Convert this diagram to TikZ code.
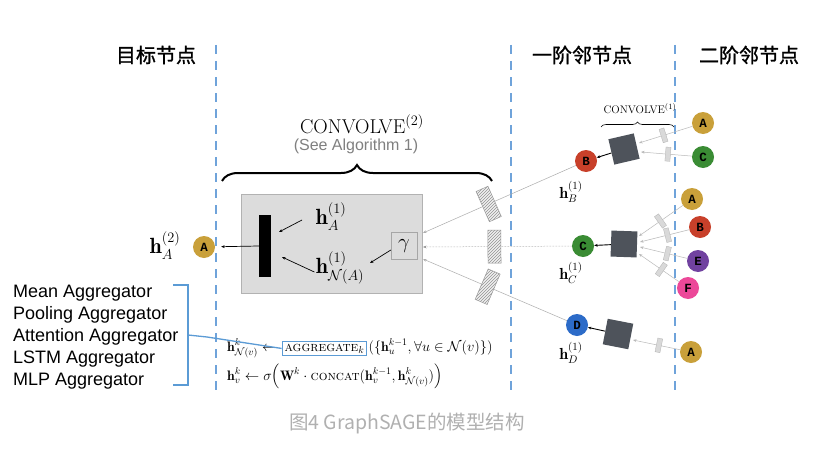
\documentclass[tikz,border=0pt]{standalone}
\usepackage{amsmath,amssymb}
\usepackage{fontspec}
\newfontfamily\cjk{Noto Sans CJK SC}
\newfontfamily\cjkhdr{Noto Sans CJK SC}[FakeBold=1.2]
\newfontfamily\lsans{Liberation Sans}
\newfontfamily\nodemono{Liberation Mono}
\usetikzlibrary{arrows.meta,patterns,decorations.pathreplacing,calc}
\definecolor{gold}{HTML}{C9A03A}
\definecolor{nred}{HTML}{C8402A}
\definecolor{ngreen}{HTML}{3A8C34}
\definecolor{nblue}{HTML}{2C6BC8}
\definecolor{npurple}{HTML}{7142A0}
\definecolor{npink}{HTML}{EC4899}
\definecolor{sepblue}{HTML}{6FA3DA}
\definecolor{brblue}{HTML}{5B9BD5}
\definecolor{sqgray}{HTML}{4E535B}
\definecolor{boxgray}{HTML}{DCDCDC}
\definecolor{capgray}{HTML}{B0B0B0}
\begin{document}
\begin{tikzpicture}[x=1pt,y=-1pt,
  vnode/.style={circle, minimum size=22pt, inner sep=0pt, font=\nodemono\bfseries\fontsize{12.5}{12.5}\selectfont, text=black},
  sepline/.style={draw=sepblue, line width=2.6pt, dash pattern=on 9pt off 7pt},
  hatchbox/.style={solid, draw=gray!80, line width=0.5pt, minimum width=13pt, minimum height=33pt, inner sep=0pt, pattern=north east lines, pattern color=gray!85, preaction={fill=gray!12}},
  minirect/.style={solid, draw=gray!60, fill=gray!30, minimum width=5pt, minimum height=14pt, inner sep=0pt, line width=0.3pt},
  darksq/.style={fill=sqgray, minimum size=26pt, inner sep=0pt},
  edgeone/.style={draw=gray!65, line width=0.5pt},
  edgetwo/.style={draw=gray!55, line width=0.5pt},
  arr/.style={-{Stealth[length=3.5pt,width=2.8pt]}},
  hdr/.style={font=\cjkhdr\fontsize{20}{20}\selectfont},
  bigmath/.style={font=\fontsize{22}{22}\selectfont},
  midmath/.style={font=\fontsize{16}{16}\selectfont},
  fml/.style={anchor=base west, inner sep=0pt, font=\fontsize{13.75}{13.75}\selectfont}
]
\useasboundingbox[fill=white] (0,0) rectangle (821,452);

% headers
\node[hdr] (hdrA) at (156,55) {目标节点};
\node[hdr] (hdrB) at (582,55) {一阶邻节点};
\node[hdr] (hdrC) at (749,55) {二阶邻节点};

% separators
\draw[sepline] (216,45) -- (216,392);
\draw[sepline] (511,45) -- (511,392);
\draw[sepline] (675,45) -- (675,392);

% convolve 2
\node[font=\fontsize{20}{20}\selectfont] (conv2) at (362,124) {CONVOLVE$^{(2)}$};
\node[font=\lsans\fontsize{16}{16}\selectfont, text=gray] (see) at (356,146) {(See Algorithm 1)};
\coordinate (brL) at (222,181);
\coordinate (brR) at (492,181);
\draw[decorate, decoration={brace, amplitude=16pt}, line width=2pt] (brL) -- (brR);

% gray box
\node[draw=gray!60, fill=boxgray, minimum width=181pt, minimum height=99pt, inner sep=0pt, anchor=north west] (box) at (241,194) {};
\node[fill=black, minimum width=12pt, minimum height=62pt, inner sep=0pt] (bar) at (265,246) {};
\node[draw=gray!70, minimum width=26pt, minimum height=27pt, inner sep=0pt, font=\fontsize{20}{20}\selectfont] (gam) at (404,246) {$\gamma$};
\node[bigmath] (hA1) at (331,217) {$\mathbf{h}_A^{(1)}$};
\node[bigmath] (hN1) at (340,268) {$\mathbf{h}^{(1)}_{\mathcal{N}(A)}$};
\coordinate (barR1) at (279,232);
\coordinate (barR2) at (282,257);
\coordinate (gamT) at (370,263);
\draw[arr, line width=0.7pt] (302,220) -- (barR1);
\draw[arr, line width=0.7pt] ($(hN1.west)+(2,4)$) -- (barR2);
\draw[arr, line width=0.7pt] (gam.west) ++(0,4) -- (gamT);

% target
\node[vnode, fill=gold] (A0) at (204,247) {A};
\node[bigmath] (hA2) at (165,246) {$\mathbf{h}_A^{(2)}$};
\draw[arr, line width=0.7pt, shorten >=6pt] (bar.west) -- (A0);

% first order nodes
\node[vnode, fill=nred] (B1) at (586,161) {B};
\node[vnode, fill=ngreen] (C1) at (583,246) {C};
\node[vnode, fill=nblue] (D1) at (577,325) {D};
\node[midmath] (hB1) at (571,192) {$\mathbf{h}_B^{(1)}$};
\node[midmath] (hC1) at (571,273) {$\mathbf{h}_C^{(1)}$};
\node[midmath] (hD1) at (571,353) {$\mathbf{h}_D^{(1)}$};

\coordinate (in1) at (423,233);
\coordinate (in2) at (423,247);
\coordinate (in3) at (423,259);
\draw[edgeone, arr] (B1) -- (in1) node[pos=0.57, sloped, hatchbox] (hb1) {};
\draw[edgeone, draw=gray!85, arr, densely dotted] (C1) -- (in2) node[pos=0.52, sloped, hatchbox] (hb2) {};
\draw[edgeone, arr] (D1) -- (in3) node[pos=0.55, sloped, hatchbox] (hb3) {};

% dark squares
\node[darksq, rotate=13] (sqB) at (624,149) {};
\node[darksq, rotate=-2] (sqC) at (624,244) {};
\node[darksq, rotate=-11] (sqD) at (618,334) {};
\draw[arr, line width=0.9pt] (sqB) -- (B1);
\draw[arr, line width=0.9pt] (sqC) -- (C1);
\draw[arr, line width=0.9pt] (sqD) -- (D1);

% convolve 1
\node[font=\fontsize{11}{11}\selectfont] (conv1) at (640,109) {CONVOLVE$^{(1)}$};
\coordinate (bsL) at (601,127);
\coordinate (bsR) at (674,127);
\draw[decorate, decoration={brace, amplitude=5pt}, line width=0.6pt] (bsL) -- (bsR);

% second order nodes
\node[vnode, fill=gold] (A2) at (703,123) {A};
\node[vnode, fill=ngreen] (C2) at (703,157) {C};
\node[vnode, fill=gold] (A3) at (692,199) {A};
\node[vnode, fill=nred] (B3) at (700,227) {B};
\node[vnode, fill=npurple] (E3) at (698,261) {E};
\node[vnode, fill=npink] (F3) at (688,288) {F};
\node[vnode, fill=gold] (A4) at (691,352) {A};

\coordinate (sb1) at (639,143);
\coordinate (sb2) at (641,152);
\coordinate (sc1) at (639,236);
\coordinate (sc2) at (640,242);
\coordinate (sc3) at (640,247);
\coordinate (sc4) at (639,254);
\coordinate (sd1) at (633,340);
\draw[edgetwo, arr] (A2) -- (sb1) node[pos=0.54, sloped, minirect] {};
\draw[edgetwo, arr] (C2) -- (sb2) node[pos=0.47, sloped, minirect] {};
\draw[edgetwo, arr] (A3) -- (sc1) node[pos=0.51, sloped, minirect] {};
\draw[edgetwo, arr] (B3) -- (sc2) node[pos=0.44, sloped, minirect] {};
\draw[edgetwo, arr] (E3) -- (sc3) node[pos=0.42, sloped, minirect] {};
\draw[edgetwo, arr] (F3) -- (sc4) node[pos=0.44, sloped, minirect] {};
\draw[edgetwo, arr] (A4) -- (sd1) node[pos=0.45, sloped, minirect] {};

% aggregator list
\node[anchor=west, align=left, font=\lsans\fontsize{18}{22}\selectfont, inner sep=0pt] (agglist) at (13,337) {Mean Aggregator\\Pooling Aggregator\\Attention Aggregator\\LSTM Aggregator\\MLP Aggregator};
\coordinate (brT) at (173,285);
\coordinate (brB) at (173,385);
\coordinate (brM) at (188,335);
\draw[brblue, line width=1.3pt] (brT) -- (188,285) -- (188,385) -- (brB);

% formulas
\node[fml] (f1a) at (227,351) {$\mathbf{h}^k_{\mathcal{N}(v)} \leftarrow$};
\node[fml, draw=brblue, line width=0.9pt, inner sep=2.5pt] (aggbox) at ($(f1a.base east)+(5,0)$) {$\textsc{aggregate}_k$};
\node[fml] (f1c) at ($(aggbox.base east)+(1,0)$) {$(\{\mathbf{h}_u^{k-1}, \forall u \in \mathcal{N}(v)\})$};
\node[fml] (f2) at (227,380) {$\mathbf{h}^k_v \leftarrow \sigma\Bigl(\mathbf{W}^k \cdot \textsc{concat}(\mathbf{h}_v^{k-1}, \mathbf{h}^k_{\mathcal{N}(v)})\Bigr)$};
\draw[brblue, line width=1.3pt] (brM) -- (207,337) -- (aggbox.west);

% caption
\node[font=\cjk\fontsize{19.5}{19.5}\selectfont, text=capgray] (cap) at (407,423) {图4 GraphSAGE的模型结构};
\end{tikzpicture}
\end{document}
